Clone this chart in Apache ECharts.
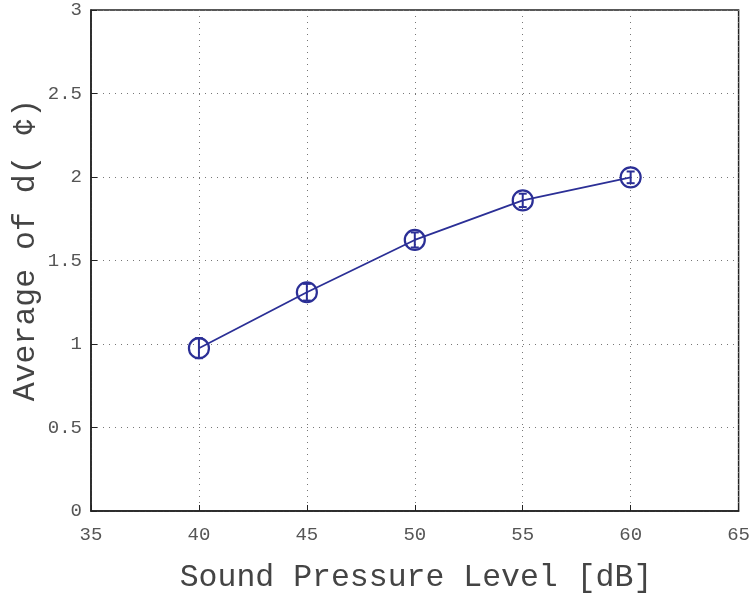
<!DOCTYPE html>
<html><head><meta charset="utf-8">
<script src="https://cdn.jsdelivr.net/npm/echarts@6/dist/echarts.min.js"></script>
<style>html,body{margin:0;padding:0;background:#fff}#c{width:753px;height:593px}</style>
</head><body><div id="c"></div>
<script>
const spl = [40, 45, 50, 55, 60];
const avgD = [0.975, 1.31, 1.623, 1.86, 1.998];
const errD = [0.06, 0.05, 0.045, 0.04, 0.035];
const xTicks = [35, 40, 45, 50, 55, 60, 65];
const yTicks = [0, 0.5, 1, 1.5, 2, 2.5, 3];
const xTitle = 'Sound Pressure Level [dB]';
const yTitle = 'Average of d( \u00a2)';

const col = '#2b2f96';
const font = '"Courier New", Courier, "Liberation Mono", monospace';
const chart = echarts.init(document.getElementById('c'), null, {renderer: 'canvas'});
const pts = spl.map((x, i) => [x, avgD[i]]);
const errData = spl.map((x, i) => [x, avgD[i] - errD[i], avgD[i] + errD[i]]);
chart.setOption({
  animation: false,
  grid: {left: 91, right: 10, top: 10, bottom: 82, show: true, borderColor: '#222', borderWidth: 1.5, backgroundColor: 'transparent'},
  graphic: [
    {type: 'text', x: 416, y: 578, style: {text: xTitle, font: '31.5px ' + font, fill: '#444', textAlign: 'center', textVerticalAlign: 'middle'}},
    {type: 'text', x: 26, y: 250, rotation: Math.PI / 2, style: {text: yTitle, font: '31.5px ' + font, fill: '#444', textAlign: 'center', textVerticalAlign: 'middle'}}
  ],
  xAxis: {
    type: 'value', min: 35, max: 65, interval: 5,
    axisLine: {show: true, lineStyle: {color: '#222', width: 1.5}},
    axisTick: {show: true, inside: true, length: 6, lineStyle: {color: '#222'}},
    axisLabel: {fontFamily: font, fontSize: 19, color: '#555', margin: 14,
      formatter: v => xTicks.includes(v) ? String(v) : ''},
    splitLine: {show: true, lineStyle: {color: '#777', type: [1, 5], width: 1}}
  },
  yAxis: {
    type: 'value', min: 0, max: 3, interval: 0.5,
    axisLine: {show: true, lineStyle: {color: '#222', width: 1.5}},
    axisTick: {show: true, inside: true, length: 6, lineStyle: {color: '#222'}},
    axisLabel: {fontFamily: font, fontSize: 19, color: '#555', margin: 9,
      formatter: v => yTicks.includes(v) ? String(v) : ''},
    splitLine: {show: true, lineStyle: {color: '#777', type: [1, 5], width: 1}}
  },
  series: [
    {
      type: 'line', data: pts, symbol: 'circle', symbolSize: 20,
      lineStyle: {color: col, width: 1.8},
      itemStyle: {color: 'rgba(255,255,255,0)', borderColor: col, borderWidth: 2.2},
      z: 3
    },
    {
      type: 'custom', data: errData, z: 4,
      renderItem: function (params, api) {
        const x = api.value(0);
        const lo = api.coord([x, api.value(1)]);
        const hi = api.coord([x, api.value(2)]);
        const w = 4;
        const st = {stroke: col, lineWidth: 2};
        return {type: 'group', children: [
          {type: 'line', shape: {x1: lo[0], y1: lo[1], x2: hi[0], y2: hi[1]}, style: st},
          {type: 'line', shape: {x1: lo[0] - w, y1: lo[1], x2: lo[0] + w, y2: lo[1]}, style: st},
          {type: 'line', shape: {x1: hi[0] - w, y1: hi[1], x2: hi[0] + w, y2: hi[1]}, style: st}
        ]};
      }
    }
  ]
});
</script></body></html>
